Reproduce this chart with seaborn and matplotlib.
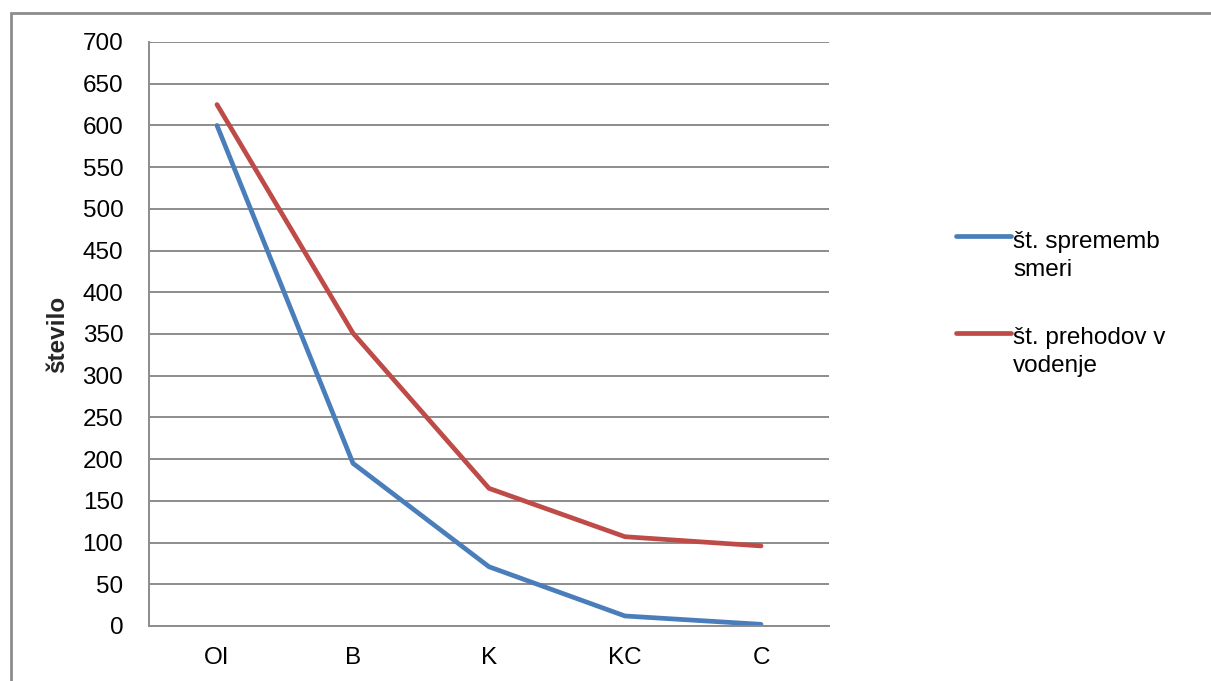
import matplotlib
matplotlib.use("Agg")
import matplotlib.pyplot as plt
import matplotlib.patches as mpatches
import matplotlib.lines as mlines
import seaborn as sns
import pandas as pd

categories = ["OI", "B", "K", "KC", "C"]
smer_values = [600, 195, 71, 12, 2]
prehod_values = [625, 351, 165, 107, 96]
series_names = ["št. sprememb\nsmeri", "št. prehodov v\nvodenje"]
series_colors = ["#4a7ebb", "#be4b48"]
y_ticks = list(range(0, 701, 50))

df = pd.DataFrame({
    "kategorija": categories * 2,
    "vrednost": smer_values + prehod_values,
    "serija": [series_names[0]] * len(categories) + [series_names[1]] * len(categories),
})

sns.set_theme(style="white")
plt.rcParams["font.family"] = ["Liberation Sans", "DejaVu Sans"]

W, H = 1211, 681
FS = 17.5
fig = plt.figure(figsize=(W / 100, H / 100), dpi=100)
ax = fig.add_axes([149 / W, 1 - 626 / H, 680 / W, 584 / H])

sns.lineplot(data=df, x="kategorija", y="vrednost", hue="serija",
             palette=series_colors, linewidth=3.4, sort=False,
             ax=ax, legend=False)

ax.set_xlim(-0.5, len(categories) - 0.5)
ax.set_ylim(0, 700)
ax.set_yticks(y_ticks)
ax.yaxis.grid(True, color="#8c8c8c", linewidth=1.4)
ax.xaxis.grid(False)
for s in ["top", "right"]:
    ax.spines[s].set_visible(False)
for s in ["left", "bottom"]:
    ax.spines[s].set_color("#8c8c8c")
    ax.spines[s].set_linewidth(1.4)
ax.tick_params(axis="both", labelsize=FS, colors="black", length=0)
ax.tick_params(axis="y", pad=18.5)
ax.tick_params(axis="x", pad=15)
ax.set_xlabel("")
ax.set_ylabel("število", fontsize=FS, fontweight="bold", labelpad=10)

# legend to the right of the plot area: a line sample beside each label
legend_rows = [(236, 276), (333, 372)]  # (line y, last baseline y) in pixels
for name, color, (ly, by) in zip(series_names, series_colors, legend_rows):
    fig.add_artist(mlines.Line2D([956 / W, 1011 / W], [1 - ly / H, 1 - ly / H],
                                 transform=fig.transFigure, color=color,
                                 linewidth=3.4, solid_capstyle="round"))
    fig.text(1013 / W, 1 - by / H, name, fontsize=FS, color="black",
             va="baseline", ha="left", linespacing=1.36)

# chart frame
frame = mpatches.Rectangle((11 / W, -0.1), 1.2, 1 - 13 / H + 0.1,
                           transform=fig.transFigure, fill=False,
                           edgecolor="#8c8c8c", linewidth=2.0)
fig.patches.append(frame)

fig.savefig("out.png", dpi=100)
